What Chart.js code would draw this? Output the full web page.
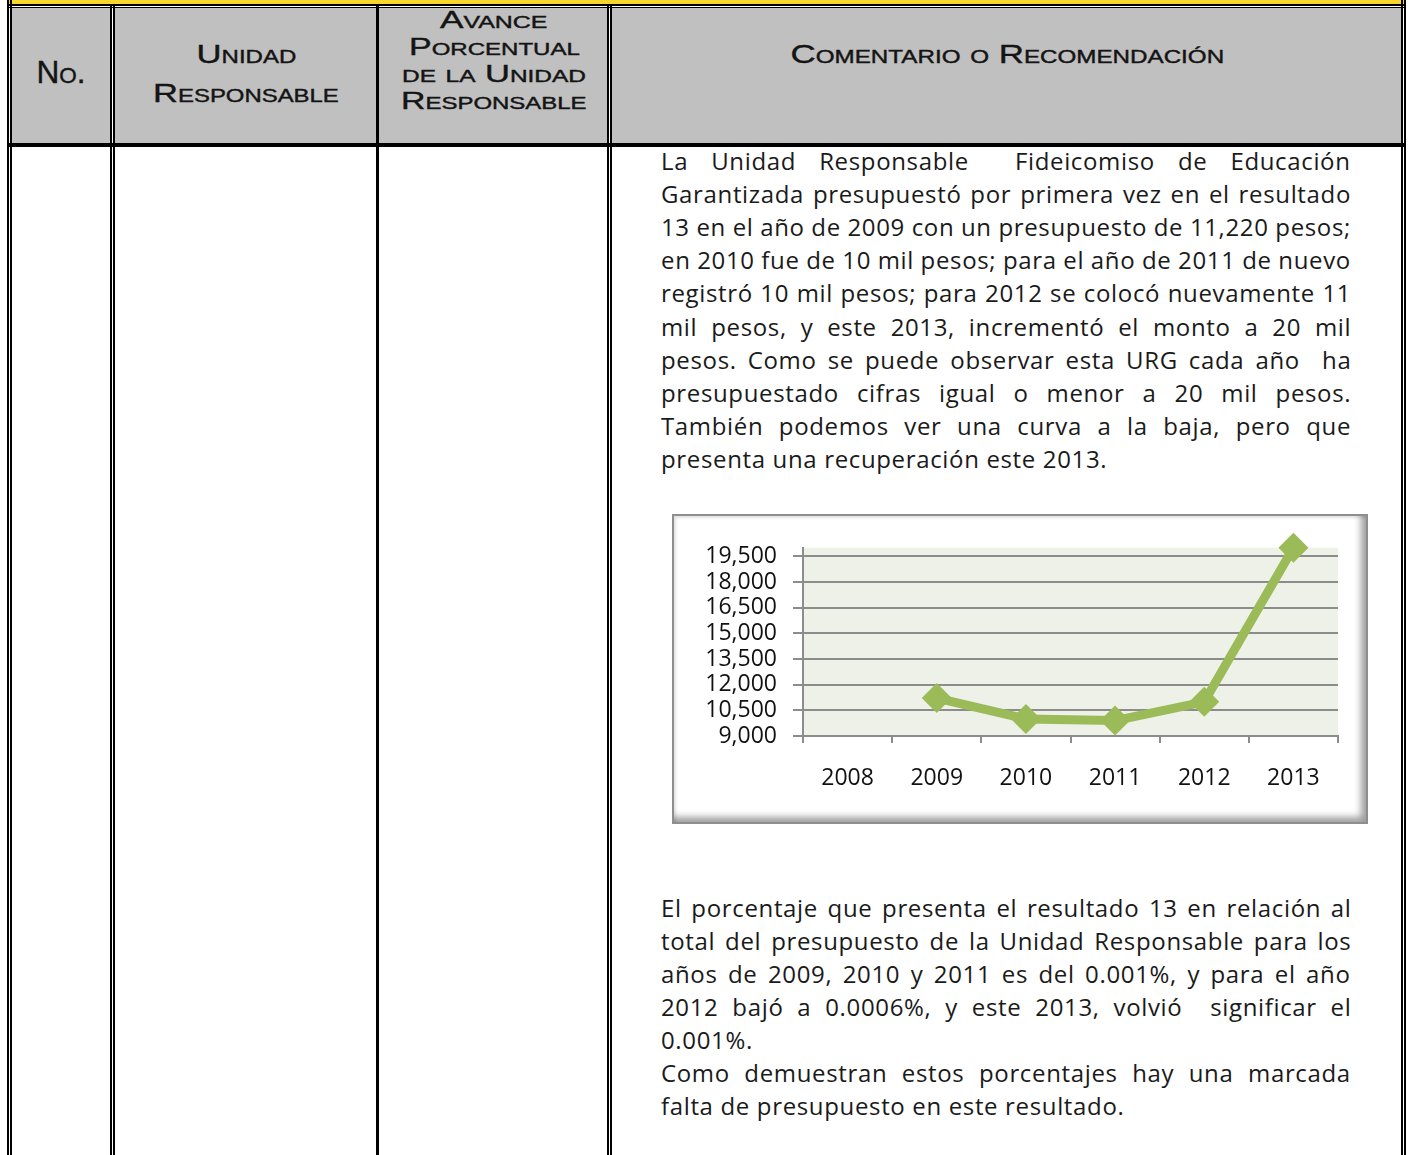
<!DOCTYPE html>
<html><head><meta charset="utf-8">
<script src="https://cdn.jsdelivr.net/npm/chart.js@4.4.1/dist/chart.umd.min.js"></script>
<style>
html,body{margin:0;padding:0;background:#fff;}
body{width:1408px;height:1155px;position:relative;overflow:hidden;font-family:'Open Sans',sans-serif;color:#1a1a1a;}
.r{position:absolute;}
.k{position:absolute;background:#000;}
.g{position:absolute;top:8px;height:135px;background:#c0c0c0;}
.hd{position:absolute;width:440px;text-align:center;white-space:nowrap;font-family:'Liberation Sans',Arial,sans-serif;font-variant:small-caps;font-weight:400;-webkit-text-stroke:0.4px #141414;color:#141414;}
.hd span{display:inline-block;transform-origin:center center;}
.ln{position:absolute;left:661px;white-space:nowrap;font-size:24px;line-height:33px;letter-spacing:0.65px;color:#1a1a1a;}
.ln span{display:inline-block;}
#frame{position:absolute;left:672px;top:514px;width:696px;height:310px;box-sizing:border-box;border:2px solid #8e8e8e;background:#fff;
 box-shadow:inset -9px -9px 7px -4px rgba(0,0,0,0.38), inset 3px 3px 3px -1px rgba(0,0,0,0.12);}
#wrap{position:absolute;left:676px;top:518px;width:688px;height:302px;}
</style></head>
<body>
<!-- top yellow band -->
<div class="r" style="left:9px;top:0;width:1395px;height:4px;background:#f6d52e;"></div>
<div class="k" style="left:7px;top:4px;width:1399px;height:2px;"></div>
<div class="k" style="left:7px;top:7px;width:1399px;height:1px;"></div>
<!-- header gray cells -->
<div class="g" style="left:12px;width:98px;"></div>
<div class="g" style="left:115px;width:261px;"></div>
<div class="g" style="left:379px;width:228px;"></div>
<div class="g" style="left:612px;width:789px;"></div>
<!-- header bottom line -->
<div class="k" style="left:7px;top:143px;width:1399px;height:4px;"></div>
<!-- vertical rules -->
<div class="k" style="left:7px;top:0;width:2px;height:1155px;"></div>
<div class="k" style="left:10px;top:0;width:2px;height:1155px;"></div>
<div class="k" style="left:110px;top:4px;width:2px;height:1151px;"></div>
<div class="k" style="left:113px;top:4px;width:2px;height:1151px;"></div>
<div class="k" style="left:376px;top:4px;width:3px;height:1151px;"></div>
<div class="k" style="left:607px;top:4px;width:2px;height:1151px;"></div>
<div class="k" style="left:610px;top:4px;width:2px;height:1151px;"></div>
<div class="k" style="left:1401px;top:0;width:2px;height:1155px;"></div>
<div class="k" style="left:1404px;top:0;width:2px;height:1155px;"></div>

<div id="headers"></div>
<div id="body"></div>

<div id="frame"></div>
<div id="wrap"><canvas id="c"></canvas></div>

<script>
// ---- data ----
const years = ['2008', '2009', '2010', '2011', '2012', '2013'];
const budget = [null, 11220, 10000, 9900, 11000, 20000];
const yTickValues = [9000, 10500, 12000, 13500, 15000, 16500, 18000, 19500];
const yMin = 9000;
const yMax = 20000;

// ---- page text ----
// [text, centre x, cap-centre y, width, font size]
const headerLines = [
  ['No.', 61, 74, 49, 31],
  ['Unidad', 246, 55, 100, 26],
  ['Responsable', 246, 94, 186, 26],
  ['Avance', 494, 21, 107, 24],
  ['Porcentual', 494, 48, 171, 24],
  ['de la Unidad', 494, 75, 184, 24],
  ['Responsable', 494, 102, 186, 24],
  ['Comentario o Recomendación', 1007, 55, 434, 26]
];
const para1 = [
  'La Unidad Responsable\u00a0 Fideicomiso de Educación',
  'Garantizada presupuestó por primera vez en el resultado',
  '13 en el año de 2009 con un presupuesto de 11,220 pesos;',
  'en 2010 fue de 10 mil pesos; para el año de 2011 de nuevo',
  'registró 10 mil pesos; para 2012 se colocó nuevamente 11',
  'mil pesos, y este 2013, incrementó el monto a 20 mil',
  'pesos. Como se puede observar esta URG cada año\u00a0 ha',
  'presupuestado cifras igual o menor a 20 mil pesos.',
  'También podemos ver una curva a la baja, pero que',
  'presenta una recuperación este 2013.'
];
const para2 = [
  'El porcentaje que presenta el resultado 13 en relación al',
  'total del presupuesto de la Unidad Responsable para los',
  'años de 2009, 2010 y 2011 es del 0.001%, y para el año',
  '2012 bajó a 0.0006%, y este 2013, volvió\u00a0 significar el',
  '0.001%.',
  'Como demuestran estos porcentajes hay una marcada',
  'falta de presupuesto en este resultado.'
];
const para2Justify = [true, true, true, true, false, true, false];

// Liberation Sans: ascent 0.905, descent 0.212, cap height 0.716
const H = document.getElementById('headers');
headerLines.forEach(([t, cx, cy, w, fs]) => {
  const d = document.createElement('div');
  d.className = 'hd';
  const L = Math.round(fs * 0.9);
  d.style.left = (cx - 220) + 'px';
  d.style.fontSize = fs + 'px';
  d.style.lineHeight = L + 'px';
  d.style.height = L + 'px';
  const capOff = (L - 1.117 * fs) / 2 + 0.905 * fs - 0.358 * fs;
  d.style.top = (cy - capOff - 1) + 'px';
  const s = document.createElement('span');
  s.textContent = t;
  d.appendChild(s);
  H.appendChild(d);
  const nat = s.offsetWidth;
  s.style.transform = 'scaleX(' + (w / nat) + ')';
});

const B = document.getElementById('body');
function addLine(t, top, justify) {
  const d = document.createElement('div');
  d.className = 'ln';
  d.style.top = top + 'px';
  const s = document.createElement('span');
  s.textContent = t;
  d.appendChild(s);
  B.appendChild(d);
  if (justify) {
    const nat = s.offsetWidth;
    const n = (t.match(/[ \u00a0]/g) || []).length;
    if (n) s.style.wordSpacing = ((690 - nat) / n) + 'px';
  }
}
para1.forEach((t, i) => addLine(t, 144 + i * 33.1, i < para1.length - 1));
para2.forEach((t, i) => addLine(t, 891 + i * 33.0, para2Justify[i]));

// ---- chart ----
const plotBg = {
  id: 'plotBg',
  beforeDraw(c) {
    const a = c.chartArea, ctx = c.ctx;
    ctx.save();
    ctx.fillStyle = '#eef1e8';
    ctx.fillRect(a.left, a.top, a.right - a.left, a.bottom - a.top);
    ctx.restore();
  }
};
const tickFont = { family: "'Open Sans', sans-serif", size: 23 };
new Chart(document.getElementById('c'), {
  type: 'line',
  data: {
    labels: years,
    datasets: [{
      data: budget,
      borderColor: '#9bbb59',
      backgroundColor: '#9bbb59',
      borderWidth: 9,
      borderJoinStyle: 'round',
      pointStyle: 'rectRot',
      pointRadius: 15,
      pointBorderWidth: 0,
      tension: 0,
      spanGaps: false,
      clip: false
    }]
  },
  options: {
    responsive: true,
    maintainAspectRatio: false,
    animation: false,
    layout: { padding: { top: 25, right: 26, left: 0, bottom: 0 } },
    plugins: { legend: { display: false }, tooltip: { enabled: false } },
    scales: {
      x: {
        type: 'category',
        offset: true,
        grid: { offset: true, drawOnChartArea: false, drawTicks: true, tickLength: 7, color: '#8c8c8c', lineWidth: 2 },
        border: { display: true, color: '#8c8c8c', width: 2 },
        ticks: { font: tickFont, color: '#111', padding: 22, maxRotation: 0, autoSkip: false },
        afterFit(s) { s.height = 84; }
      },
      y: {
        min: yMin,
        max: yMax,
        afterBuildTicks(s) { s.ticks = yTickValues.map(v => ({ value: v })); },
        grid: { color: '#8c8c8c', lineWidth: 2, drawTicks: true, tickLength: 10 },
        border: { display: true, color: '#8c8c8c', width: 2 },
        ticks: { font: tickFont, color: '#111', padding: 16, autoSkip: false, callback: v => Number(v).toLocaleString('en-US') },
        afterFit(s) { s.width = 127; }
      }
    }
  },
  plugins: [plotBg]
});
</script>
</body></html>
